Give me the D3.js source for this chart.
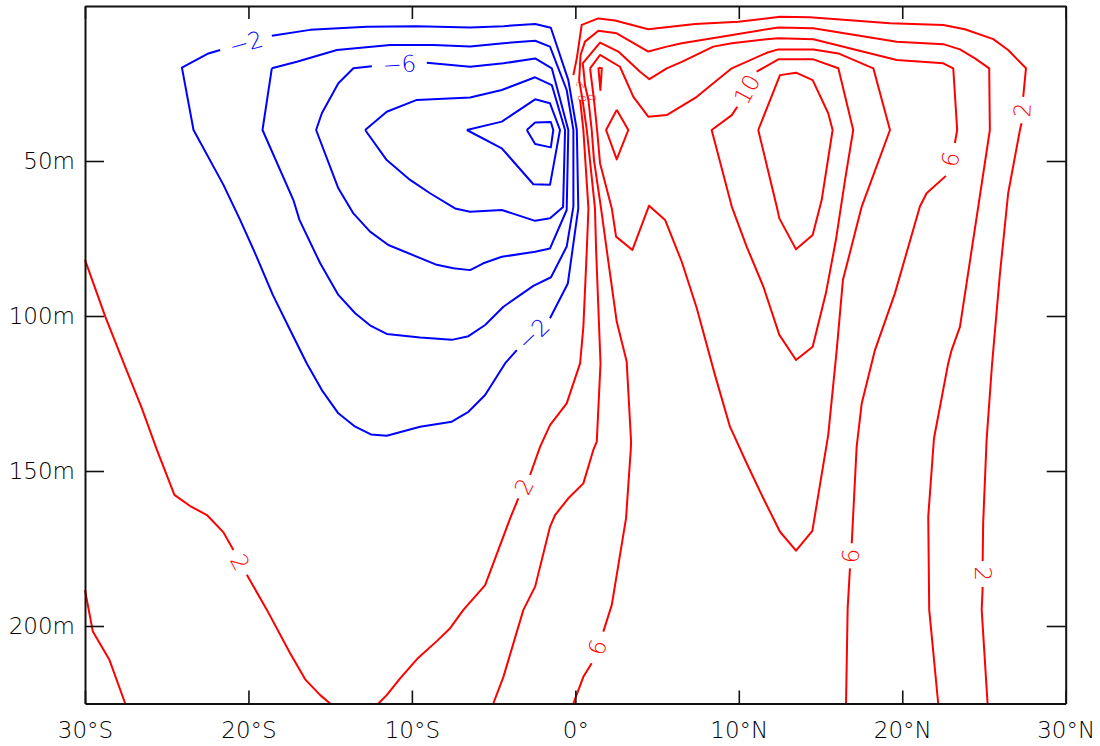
<!DOCTYPE html>
<html><head><meta charset="utf-8">
<script src="https://cdn.jsdelivr.net/npm/d3@7"></script>
<style>
body{margin:0;background:#fff}
svg text{font-family:"DejaVu Sans",sans-serif;font-weight:200}
</style>
</head><body>
<svg id="chart" width="1100" height="746"></svg>
<script>
// ---------- axis values ----------
const latTicks = [-30,-20,-10,0,10,20,30];
const latLabels = ["30°S","20°S","10°S","0°","10°N","20°N","30°N"];
const depthTicks = [50,100,150,200];
const depthLabels = ["50m","100m","150m","200m"];

// ---------- contour polylines [lat, depth(m)] ----------
const neg2_a = [[-21.73,14.2],[-22.45,15.3],[-24.07,19.9],[-23.36,40.0],[-21.53,57.7],[-20.51,69.0],[-19.59,79.8],[-18.51,93.2],[-17.45,104.5],[-16.43,115.3],[-15.51,123.9],[-14.50,131.4],[-13.47,135.7],[-12.51,138.2],[-11.54,138.6],[-9.50,135.7],[-7.56,134.1],[-6.54,130.9],[-5.52,125.5],[-4.30,115.3],[-3.58,111.0]];
const neg2_b = [[-1.55,100.7],[-0.46,89.5],[0.18,65.3],[0.09,40.0],[-0.43,23.9],[-1.50,7.0],[-2.46,5.8],[-4.40,6.5],[-6.44,6.9],[-9.70,6.5],[-12.76,6.7],[-16.23,7.7],[-18.57,9.6]];
const neg4 = [[-18.57,20.1],[-17.04,18.0],[-14.59,14.2],[-11.33,12.6],[-8.69,12.6],[-6.44,13.1],[-4.40,12.0],[-2.46,11.2],[-1.55,13.1],[-0.53,27.1],[-0.12,40.0],[-0.12,64.7],[-0.53,77.6],[-1.49,87.5],[-2.57,90.3],[-4.40,97.0],[-5.52,102.9],[-6.54,106.5],[-7.56,107.7],[-9.50,106.9],[-11.54,105.8],[-12.51,103.2],[-13.47,99.1],[-14.50,93.2],[-15.61,83.0],[-16.88,69.0],[-17.25,62.6],[-19.14,40.0]];
const neg6 = [[-9.09,18.3],[-6.44,19.6],[-4.40,18.5],[-2.46,16.9],[-1.44,20.1],[-0.43,40.0],[-0.53,65.8],[-1.55,78.2],[-2.46,79.3],[-4.50,80.9],[-5.63,83.0],[-6.44,85.2],[-7.46,84.6],[-8.48,83.5],[-11.44,77.1],[-12.56,72.8],[-13.58,66.9],[-14.50,58.8],[-15.86,40.0],[-15.51,34.6],[-14.50,24.9],[-13.58,20.1],[-12.45,19.4]];
const neg8 = [[-12.86,40.0],[-11.54,34.1],[-9.70,30.3],[-6.44,29.5],[-4.50,27.1],[-2.46,23.0],[-1.44,25.5],[-0.63,40.0],[-0.75,64.8],[-1.55,68.5],[-2.46,69.3],[-4.50,65.8],[-6.44,66.4],[-7.36,65.3],[-8.89,60.4],[-10.11,56.1],[-11.54,49.7]];
const neg10 = [[-6.64,40.0],[-4.50,37.3],[-2.46,30.1],[-1.55,31.4],[-0.94,40.0],[-1.55,57.7],[-2.57,57.5],[-4.50,45.9]];
const neg12 = [[-2.97,40.0],[-2.46,37.6],[-1.50,37.4],[-1.35,40.0],[-1.50,45.6],[-2.46,44.5]];

const pos2s_a = [[-30.0,81.9],[-28.76,100.2],[-27.54,116.4],[-26.52,129.8],[-25.60,143.2],[-24.53,157.7],[-23.57,161.3],[-22.54,164.2],[-21.53,169.8],[-20.92,175.5]];
const pos2s_b = [[-20.10,183.5],[-18.87,194.8],[-17.45,208.8],[-16.53,217.2],[-15.61,222.3],[-15.00,225]];
const pos2corner = [[-30.0,188.4],[-29.52,201.8],[-28.50,211.0],[-27.54,225]];

const pos2_a = [[-12.05,225],[-11.54,222.3],[-10.72,216.9],[-9.62,210.3],[-8.46,204.8],[-7.66,200.7],[-6.85,194.8],[-5.52,186.8],[-5.02,179.8],[-3.99,165.3],[-3.49,158.8]];
const pos2_b = [[-2.77,151.3],[-2.16,142.2],[-1.55,135.2],[-0.53,128.2],[0.29,115.3],[0.49,103.5],[0.70,78.7],[0.80,65.3],[0.49,40.0],[0.29,30.3]];
const pos2_c = [[-0.12,22.3],[0.09,16.8],[0.39,6.1],[1.41,4.0],[2.43,4.7],[4.46,7.5],[7.32,5.8],[9.97,5.1],[12.52,3.5],[14.35,3.6],[19.25,5.6],[22.51,6.1],[23.83,7.5],[25.57,10.7],[26.48,14.2],[27.57,20.1],[27.40,29.3]];
const pos2_d = [[27.30,37.8],[27.20,40.0],[26.48,60.4],[25.98,86.2],[25.49,115.8],[25.16,140.0],[24.95,166.9],[24.92,179.0]];
const pos2_e = [[24.92,187.4],[24.86,194.8],[25.22,225]];

const pos4 = [[-5.02,225],[-4.40,216.4],[-3.18,194.8],[-2.46,187.3],[-1.55,168.0],[-1.24,164.2],[-0.43,158.8],[0.49,154.0],[1.10,143.2],[1.31,140.5],[1.54,115.3],[1.27,78.7],[1.20,65.3],[0.70,40.0],[0.44,30.3],[0.23,23.9],[0.32,15.8],[0.59,11.5],[1.41,8.0],[2.53,8.8],[4.46,14.7],[5.59,13.1],[6.51,12.0],[8.95,9.9],[12.42,6.9],[14.56,7.2],[19.66,11.5],[22.51,12.3],[23.53,14.0],[24.45,16.9],[25.32,20.1],[25.36,40.0],[24.65,64.7],[23.53,103.5],[23.02,111.0],[22.81,115.3],[21.94,139.5],[21.59,164.7],[21.65,194.8],[22.20,225]];

const pos6_a = [[-0.12,225],[0.49,216.4],[1.00,212.0]];
const pos6_b = [[1.71,201.8],[2.23,193.2],[3.10,165.3],[3.39,143.2],[3.41,140.5],[3.14,114.7],[2.53,101.8],[1.92,78.7],[1.57,65.2],[1.14,49.7],[1.00,40.0],[0.80,30.3],[0.59,25.5],[0.50,20.6],[0.45,18.5],[1.51,11.8],[2.63,14.7],[3.96,21.2],[4.53,23.6],[5.59,20.1],[6.51,18.0],[8.44,13.1],[9.57,12.0],[11.71,10.7],[12.42,10.4],[14.56,10.7],[19.66,17.4],[22.51,18.5],[23.12,20.1],[23.36,40.0],[23.22,44.2]];
const pos6_c = [[22.67,54.8],[21.49,60.4],[21.08,64.7],[19.55,92.7],[18.33,111.0],[17.52,128.2],[17.21,142.2],[16.91,173.3]];
const pos6_d = [[16.80,181.4],[16.66,194.3],[16.56,225]];

const pos8 = [[0.90,20.1],[1.51,15.8],[2.73,19.6],[3.55,29.3],[4.46,35.7],[5.59,35.2],[7.43,29.3],[8.44,24.9],[9.57,20.1],[11.71,15.1],[12.42,14.0],[14.56,14.0],[16.09,15.3],[18.23,20.1],[19.25,40.0],[17.52,64.7],[16.37,88.4],[15.99,111.0],[15.47,138.4],[14.50,169.3],[13.50,175.7],[12.52,169.6],[11.50,158.8],[10.48,147.5],[9.46,135.7],[8.54,119.0],[7.43,97.5],[6.51,82.5],[5.49,69.0],[4.51,64.4],[3.49,78.7],[2.49,74.4],[2.23,65.3],[1.51,50.7],[1.33,40.0],[1.14,30.3]];

const pos10_sliver = [[1.41,19.9],[1.62,20.1],[1.53,27.1]];
const pos10_diamond = [[2.53,33.5],[3.24,40.0],[2.53,49.5],[1.88,40.0]];
const pos10_loop = [[11.09,21.2],[12.42,17.2],[14.56,17.2],[16.09,20.1],[17.00,40.0],[16.50,56.1],[15.94,75.5],[15.33,92.6],[14.52,109.9],[13.50,114.2],[12.48,106.1],[11.50,90.5],[10.48,77.6],[9.57,64.7],[8.34,40.0],[9.57,35.2],[9.91,32.5]];
const pos12 = [[11.19,40.0],[12.52,22.3],[13.50,21.5],[14.52,23.9],[15.47,34.6],[15.74,40.0],[15.07,62.6],[14.52,73.9],[13.50,78.5],[12.48,68.5],[12.32,64.7]];

// small crowded labels near the equator
const tinyLabelText = ["2","0","0"];
const tinyLabelPos = [[0.35,25.3],[0.45,29.8],[1.05,29.6]];

// contour table: labels sit in the gaps between consecutive segments
const contours = [
  {level:-2, closed:true, segs:[neg2_a,neg2_b], labels:[true,true]},
  {level:-4, closed:true, segs:[neg4], labels:[]},
  {level:-6, closed:true, segs:[neg6], labels:[true]},
  {level:-8, closed:true, segs:[neg8], labels:[]},
  {level:-10, closed:true, segs:[neg10], labels:[]},
  {level:-12, closed:true, segs:[neg12], labels:[]},
  {level:2, closed:false, segs:[pos2s_a,pos2s_b], labels:[true]},
  {level:2, closed:false, segs:[pos2corner], labels:[]},
  {level:2, closed:false, segs:[pos2_a,pos2_b,pos2_c,pos2_d,pos2_e], labels:[true,false,true,true]},
  {level:4, closed:false, segs:[pos4], labels:[]},
  {level:6, closed:false, segs:[pos6_a,pos6_b,pos6_c,pos6_d], labels:[true,true,true]},
  {level:8, closed:true, segs:[pos8], labels:[]},
  {level:10, closed:true, segs:[pos10_sliver], labels:[]},
  {level:10, closed:true, segs:[pos10_diamond], labels:[]},
  {level:10, closed:true, segs:[pos10_loop], labels:[true]},
  {level:12, closed:true, segs:[pos12], labels:[]}
];

// ---------- drawing ----------
const W = 1100, H = 746;
const m = {left:85, right:34.3, top:6, bottom:42.5};
const svg = d3.select("#chart");
const x = d3.scaleLinear().domain([-30,30]).range([m.left, W - m.right]);
const y = d3.scaleLinear().domain([0,225]).range([m.top, H - m.bottom]);
const line = d3.line().x(d => x(d[0])).y(d => y(d[1]));
const colorOf = lv => lv < 0 ? "#0000ff" : "#ff0000";
const fmt = lv => lv < 0 ? "\u2212" + Math.abs(lv) : String(lv);

const g = svg.append("g");
contours.forEach(c => {
  const col = colorOf(c.level);
  c.segs.forEach(s => {
    const pts = (c.closed && c.segs.length === 1 && !c.labels.length) ? s.concat([s[0]]) : s;
    g.append("path").attr("d", line(pts)).attr("fill","none")
      .attr("stroke", col).attr("stroke-width", 2)
      .attr("stroke-linejoin","round");
  });
  c.labels.forEach((on, i) => {
    if (!on) return;
    const a = c.segs[i][c.segs[i].length - 1];
    const b = c.segs[(i + 1) % c.segs.length][0];
    const ax = x(a[0]), ay = y(a[1]), bx = x(b[0]), by = y(b[1]);
    let ang = Math.atan2(by - ay, bx - ax) * 180 / Math.PI;
    if (ang > 90) ang -= 180;
    if (ang <= -90) ang += 180;
    g.append("text")
      .attr("transform", `translate(${(ax+bx)/2},${(ay+by)/2}) rotate(${ang})`)
      .attr("text-anchor","middle").attr("dominant-baseline","central")
      .attr("font-size", 23).attr("fill", col).text(fmt(c.level));
  });
});
tinyLabelText.forEach((t, i) => {
  const p = tinyLabelPos[i];
  g.append("text").attr("transform", `translate(${x(p[0])},${y(p[1])}) rotate(-80)`)
    .attr("text-anchor","middle").attr("dominant-baseline","central")
    .attr("font-size", 11).attr("fill", "#ff0000").text(t);
});

// axes (frame with inward ticks)
const axCol = "#111";
const xb = svg.append("g").attr("transform", `translate(0,${H - m.bottom})`)
  .call(d3.axisBottom(x).tickValues(latTicks).tickSizeInner(-13).tickSizeOuter(0).tickPadding(18)
    .tickFormat((d,i) => latLabels[i]));
const xt = svg.append("g").attr("transform", `translate(0,${m.top})`)
  .call(d3.axisTop(x).tickValues(latTicks).tickSizeInner(-13).tickSizeOuter(0).tickFormat(""));
const yl = svg.append("g").attr("transform", `translate(${m.left},0)`)
  .call(d3.axisLeft(y).tickValues(depthTicks).tickSizeInner(-19).tickSizeOuter(0).tickPadding(10)
    .tickFormat((d,i) => depthLabels[i]));
const yr = svg.append("g").attr("transform", `translate(${W - m.right},0)`)
  .call(d3.axisRight(y).tickValues(depthTicks).tickSizeInner(-19).tickSizeOuter(0).tickFormat(""));
[xb,xt,yl,yr].forEach(a => {
  a.selectAll("path.domain").attr("stroke", axCol).attr("stroke-width", 2);
  a.selectAll(".tick line").attr("stroke", axCol).attr("stroke-width", 1.6);
  a.selectAll("text").attr("font-size", 23).attr("fill", "#000")
    .attr("font-family", '"DejaVu Sans",sans-serif').attr("font-weight", 200);
});
</script>
</body></html>
